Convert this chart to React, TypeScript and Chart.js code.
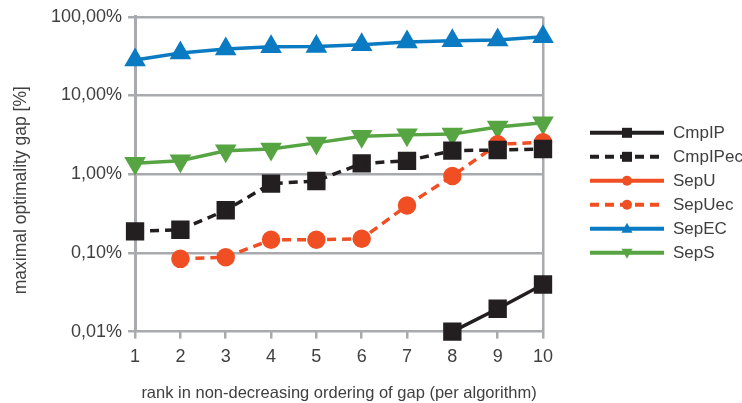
import React, { useEffect, useRef } from 'react';
import { Chart, registerables } from 'chart.js';

Chart.register(...registerables);

const categories = ['1', '2', '3', '4', '5', '6', '7', '8', '9', '10'];
const cmpIP = [null, null, null, null, null, null, null, 0.01, 0.0195, 0.0397];
const cmpIPec = [0.188, 0.197, 0.348, 0.76, 0.82, 1.37, 1.48, 1.99, 2.03, 2.09];
const sepU: (number | null)[] = [null, null, null, null, null, null, null, null, null, null];
const sepUec = [null, 0.084, 0.088, 0.147, 0.147, 0.151, 0.4, 0.95, 2.4, 2.55];
const sepEC = [28.3, 34.6, 39, 41.7, 41.8, 44, 47.9, 49.5, 50.7, 55.6];
const sepS = [1.38, 1.48, 1.99, 2.09, 2.5, 3.03, 3.16, 3.24, 3.97, 4.5];
const yTicks = [0.01, 0.1, 1, 10, 100];
const yTitle = 'maximal optimality gap [%]';
const xTitle = 'rank in non-decreasing ordering of gap (per algorithm)';

const BLACK = '#231f20';
const ORANGE = '#f04e23';
const BLUE = '#0a7bc2';
const GREEN = '#57a443';
const GRID = '#a8aaad';
const TEXT = '#404040';
const FONT = "'Liberation Sans', Arial, sans-serif";

function drawMarker(ctx: CanvasRenderingContext2D, style: string, x: number, y: number, s: number, color: string) {
  ctx.fillStyle = color;
  ctx.beginPath();
  if (style === 'rect') {
    ctx.rect(x - s / 2, y - s / 2, s, s);
  } else if (style === 'circle') {
    ctx.arc(x, y, s / 2, 0, Math.PI * 2);
  } else if (style === 'triangle') {
    ctx.moveTo(x, y - s * 0.6);
    ctx.lineTo(x + s * 0.55, y + s * 0.4);
    ctx.lineTo(x - s * 0.55, y + s * 0.4);
    ctx.closePath();
  } else if (style === 'down') {
    ctx.moveTo(x, y + s * 0.6);
    ctx.lineTo(x + s * 0.55, y - s * 0.4);
    ctx.lineTo(x - s * 0.55, y - s * 0.4);
    ctx.closePath();
  }
  ctx.fill();
}

const legendPlugin = {
  id: 'sideLegend',
  afterDraw(chart: any) {
    const ctx: CanvasRenderingContext2D = chart.ctx;
    const area = chart.chartArea;
    // y-axis title (drawn manually so it can sit slightly below centre, as in the reference)
    ctx.save();
    ctx.translate(21, (area.top + area.bottom) / 2 + 16);
    ctx.rotate(-Math.PI / 2);
    ctx.fillStyle = TEXT;
    ctx.font = `17.5px ${FONT}`;
    ctx.textAlign = 'center';
    ctx.textBaseline = 'middle';
    ctx.fillText(yTitle, 0, 0);
    ctx.restore();

    const x0 = area.right + 47;
    const x1 = x0 + 74;
    const tx = x1 + 9;
    const y0 = area.top + 116;
    chart.data.datasets.forEach((ds: any, i: number) => {
      const y = y0 + i * 24;
      ctx.save();
      ctx.strokeStyle = ds.borderColor;
      ctx.lineWidth = 4;
      ctx.setLineDash(ds.borderDash || []);
      ctx.beginPath();
      ctx.moveTo(x0, y);
      ctx.lineTo(x1, y);
      ctx.stroke();
      ctx.setLineDash([]);
      drawMarker(ctx, ds.legendMarker, (x0 + x1) / 2, y, 10, ds.borderColor);
      ctx.fillStyle = TEXT;
      ctx.font = `17px ${FONT}`;
      ctx.textBaseline = 'middle';
      ctx.textAlign = 'left';
      ctx.fillText(ds.label, tx, y + 1);
      ctx.restore();
    });
  },
};

function fmt(v: number) {
  return v.toFixed(2).replace('.', ',') + '%';
}

export default function App() {
  const ref = useRef<HTMLCanvasElement | null>(null);
  useEffect(() => {
    document.body.style.margin = '0';
    const canvas = ref.current!;
    const common = { borderWidth: 3.5, clip: false as any, spanGaps: false };
    const chart = new Chart(canvas, {
      type: 'line',
      data: {
        labels: categories,
        datasets: [
          { label: 'CmpIP', data: cmpIP, borderColor: BLACK, backgroundColor: BLACK, pointStyle: 'rect', pointRadius: 10.5, legendMarker: 'rect', ...common } as any,
          { label: 'CmpIPec', data: cmpIPec, borderColor: BLACK, backgroundColor: BLACK, borderDash: [9, 6], pointStyle: 'rect', pointRadius: 10.5, legendMarker: 'rect', ...common } as any,
          { label: 'SepU', data: sepU, borderColor: ORANGE, backgroundColor: ORANGE, pointStyle: 'circle', pointRadius: 7.5, legendMarker: 'circle', ...common } as any,
          { label: 'SepUec', data: sepUec, borderColor: ORANGE, backgroundColor: ORANGE, borderDash: [9, 6], pointStyle: 'circle', pointRadius: 7.5, legendMarker: 'circle', ...common } as any,
          { label: 'SepEC', data: sepEC, borderColor: BLUE, backgroundColor: BLUE, pointStyle: 'triangle', pointRadius: 9, legendMarker: 'triangle', ...common } as any,
          { label: 'SepS', data: sepS, borderColor: GREEN, backgroundColor: GREEN, pointStyle: 'triangle', pointRotation: 180, pointRadius: 9, legendMarker: 'down', ...common } as any,
        ],
      },
      options: {
        animation: false,
        responsive: true,
        maintainAspectRatio: false,
        layout: { padding: { top: 16, right: 199, bottom: 0, left: 45 } },
        elements: { point: { borderWidth: 0 }, line: { tension: 0 } },
        plugins: {
          legend: { display: false },
          tooltip: { enabled: false },
        },
        scales: {
          x: {
            type: 'category',
            offset: false,
            grid: {
              display: true,
              color: (c: any) => (c.index === categories.length - 1 ? GRID : 'transparent'),
              lineWidth: 2.5,
              tickColor: GRID,
              tickLength: 7,
              drawOnChartArea: true,
            },
            border: { display: false },
            ticks: { color: TEXT, font: { size: 18, family: FONT }, padding: 8, maxRotation: 0 },
            title: {
              display: true,
              text: xTitle,
              color: TEXT,
              font: { size: 16.5, family: FONT },
              padding: { top: 7, bottom: 0 },
            },
          },
          y: {
            type: 'logarithmic',
            min: 0.01,
            max: 100,
            afterBuildTicks: (axis: any) => {
              axis.ticks = yTicks.map((v) => ({ value: v }));
            },
            grid: { color: GRID, lineWidth: 2.5, tickColor: GRID, tickLength: 7 },
            border: { display: true, color: GRID, width: 3 },
            ticks: {
              color: TEXT,
              font: { size: 18, family: FONT },
              padding: 6,
              callback: (v: any) => fmt(Number(v)),
            },
            title: { display: false },
          },
        },
      } as any,
      plugins: [legendPlugin],
    });
    return () => chart.destroy();
  }, []);
  return (
    <div style={{ position: 'relative', width: 742, height: 403 }}>
      <canvas ref={ref} />
    </div>
  );
}
